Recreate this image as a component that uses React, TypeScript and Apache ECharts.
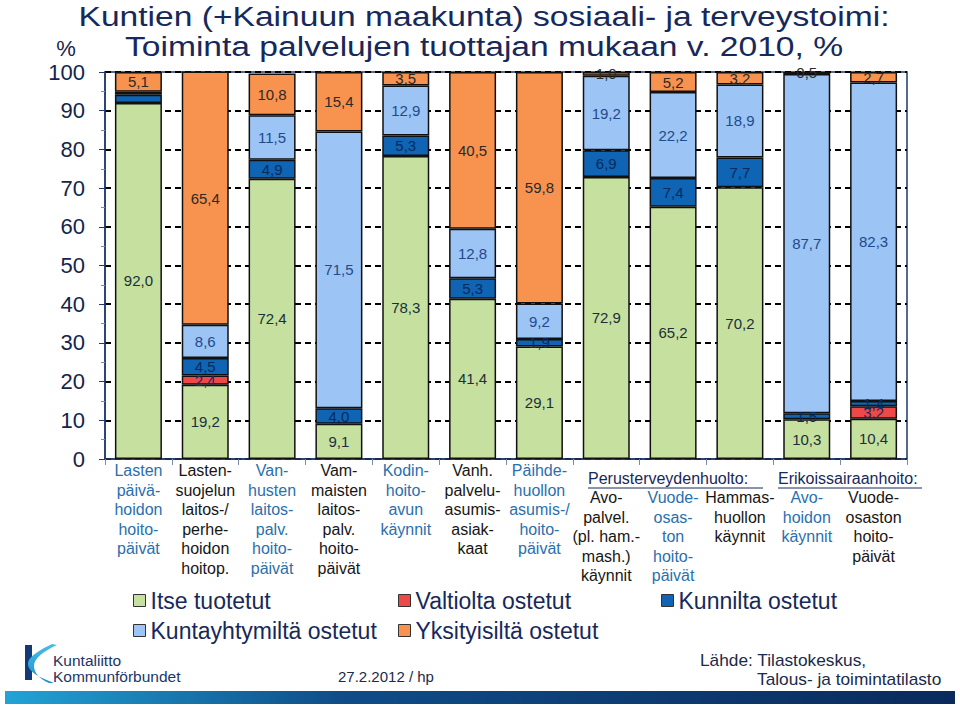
import React, { useEffect, useRef } from 'react';
import * as echarts from 'echarts';

const categories: string[] = [
  'Lasten\npäivä-\nhoidon\nhoito-\npäivät',
  'Lasten-\nsuojelun\nlaitos-/\nperhe-\nhoidon\nhoitop.',
  'Van-\nhusten\nlaitos-\npalv.\nhoito-\npäivät',
  'Vam-\nmaisten\nlaitos-\npalv.\nhoito-\npäivät',
  'Kodin-\nhoito-\navun\nkäynnit',
  'Vanh.\npalvelu-\nasumis-\nasiak-\nkaat',
  'Päihde-\nhuollon\nasumis-/\nhoito-\npäivät',
  'Avo-\npalvel.\n(pl. ham.-\nmash.)\nkäynnit',
  'Vuode-\nosas-\nton\nhoito-\npäivät',
  'Hammas-\nhuollon\nkäynnit',
  'Avo-\nhoidon\nkäynnit',
  'Vuode-\nosaston\nhoito-\npäivät',
];

const itseTuotetut = [92.0, 19.2, 72.4, 9.1, 78.3, 41.4, 29.1, 72.9, 65.2, 70.2, 10.3, 10.4];
const valtioltaOstetut = [0, 2.4, 0, 0, 0, 0, 0, 0, 0, 0, 0, 3.2];
const kunniltaOstetut = [2.1, 4.5, 4.9, 4.0, 5.3, 5.3, 1.9, 6.9, 7.4, 7.7, 1.5, 1.4];
const kuntayhtymiltaOstetut = [0.8, 8.6, 11.5, 71.5, 12.9, 12.8, 9.2, 19.2, 22.2, 18.9, 87.7, 82.3];
const yksityisiltaOstetut = [5.1, 65.4, 10.8, 15.4, 3.5, 40.5, 59.8, 1.0, 5.2, 3.2, 0.5, 2.7];

const seriesNames = [
  'Itse tuotetut',
  'Valtiolta ostetut',
  'Kunnilta ostetut',
  'Kuntayhtymiltä ostetut',
  'Yksityisiltä ostetut',
];
const seriesData = [itseTuotetut, valtioltaOstetut, kunniltaOstetut, kuntayhtymiltaOstetut, yksityisiltaOstetut];
const seriesColors = ['#c6e0a0', '#ee4848', '#0f64b4', '#9cc4f4', '#f8924f'];
const labelColors = ['#1b2f3a', '#1f2a5a', '#0a2a5c', '#1f4a8c', '#2a2a2a'];
// labels not drawn in the reference: [series index, category index]
const hiddenLabels = [[2, 0], [3, 0]];

const groupHeaders = ['Perusterveydenhuolto:', 'Erikoissairaanhoito:'];
const headerCategoryStart = 7;

const titleLines = [
  'Kuntien (+Kainuun maakunta) sosiaali- ja terveystoimi:',
  'Toiminta palvelujen tuottajan mukaan v. 2010, %',
];

const FONT = '"Liberation Sans", Arial, sans-serif';
const NAVY = '#16295a';

echarts.graphic.registerShape(
  'kuntaliittoSwoosh',
  echarts.graphic.extendPath(
    'M 52 644 C 42 649 28 656 28 664 C 28 672 41 678 54 683 L 49 683 C 40 679 34 673 34 666 C 34 658 44 651 57 645 Z',
    {}
  )
);

export default function App() {
  const ref = useRef<HTMLDivElement>(null);

  useEffect(() => {
    if (!ref.current) return;
    const chart = echarts.init(ref.current, undefined, { renderer: 'svg' });

    const series = seriesNames.map((name, si) => ({
      name,
      type: 'bar',
      stack: 'total',
      barWidth: 47,
      data: seriesData[si].map((v, ci) => {
        if (v === 0) return null;
        const hidden = hiddenLabels.some(([s, c]) => s === si && c === ci);
        return hidden ? { value: v, label: { show: false } } : v;
      }),
      itemStyle: { color: seriesColors[si], borderColor: '#111', borderWidth: 1.5 },
      label: {
        show: true,
        position: 'inside',
        color: labelColors[si],
        fontSize: 15,
        fontFamily: FONT,
        formatter: (p: any) => Number(p.value).toFixed(1).replace('.', ','),
      },
    }));

    const legendPos = [
      [133, 589],
      [398, 589],
      [661, 589],
      [133, 619],
      [398, 619],
    ];

    const legends = seriesNames.map((name, i) => ({
      data: [name],
      left: legendPos[i][0],
      top: legendPos[i][1],
      icon: 'rect',
      itemWidth: 12,
      itemHeight: 12,
      padding: 0,
      selectedMode: false,
      itemStyle: { borderColor: '#333', borderWidth: 1 },
      textStyle: { fontSize: 23, color: NAVY, fontFamily: FONT },
    }));

    const option: any = {
      animation: false,
      backgroundColor: '#ffffff',
      grid: {
        left: 105,
        right: 53,
        top: 72,
        bottom: 247,
        show: true,
        borderColor: '#1f3a6e',
        borderWidth: 1.5,
        backgroundColor: 'transparent',
      },
      legend: legends,
      xAxis: {
        type: 'category',
        data: categories,
        axisLine: { lineStyle: { color: '#1f3a6e', width: 1.5 } },
        axisTick: { show: true, length: 6, interval: 0, lineStyle: { color: '#7a8aa8' } },
        axisLabel: {
          interval: 0,
          margin: 2,
          formatter: (value: string, index: number) => {
            const style = index % 2 === 0 ? 'b' : 'k';
            const lines = value.split('\n').map((l) => `{${style}|${l}}`).join('\n');
            return index >= headerCategoryStart ? `{sp| }\n${lines}` : lines;
          },
          rich: {
            b: { color: '#2a6fae', fontSize: 16, fontFamily: FONT, lineHeight: 19.5 },
            k: { color: '#161616', fontSize: 16, fontFamily: FONT, lineHeight: 19.5 },
            sp: { fontSize: 16, lineHeight: 27 },
          },
        },
      },
      yAxis: {
        type: 'value',
        min: 0,
        max: 100,
        interval: 10,
        axisLine: { show: true, lineStyle: { color: '#1f3a6e', width: 1.5 } },
        axisTick: { show: true, length: 6, lineStyle: { color: '#1f3a6e' } },
        minorTick: { show: true, splitNumber: 2, length: 4, lineStyle: { color: '#7a8aa8' } },
        axisLabel: { fontSize: 22, color: '#15244a', fontFamily: FONT, margin: 20 },
        splitLine: { show: true, lineStyle: { color: '#000', width: 2, type: [6, 4] } },
      },
      series,
      graphic: [
        {
          type: 'text',
          x: 484,
          y: 16,
          scaleX: 1.2,
          style: { text: titleLines[0], fill: NAVY, font: `28px ${FONT}`, align: 'center', verticalAlign: 'middle' },
        },
        {
          type: 'text',
          x: 484,
          y: 46,
          scaleX: 1.2,
          style: { text: titleLines[1], fill: NAVY, font: `28px ${FONT}`, align: 'center', verticalAlign: 'middle' },
        },
        {
          type: 'text',
          x: 66,
          y: 48,
          style: { text: '%', fill: '#15244a', font: `22px ${FONT}`, align: 'center', verticalAlign: 'middle' },
        },
        {
          type: 'text',
          x: 588,
          y: 478,
          style: { text: groupHeaders[0], fill: NAVY, font: `16px ${FONT}`, align: 'left', verticalAlign: 'middle' },
        },
        { type: 'line', shape: { x1: 588, y1: 488, x2: 763, y2: 488 }, style: { stroke: NAVY, lineWidth: 1 } },
        {
          type: 'text',
          x: 778,
          y: 478,
          style: { text: groupHeaders[1], fill: NAVY, font: `16px ${FONT}`, align: 'left', verticalAlign: 'middle' },
        },
        { type: 'line', shape: { x1: 778, y1: 488, x2: 922, y2: 488 }, style: { stroke: NAVY, lineWidth: 1 } },
        // logo
        { type: 'rect', shape: { x: 25, y: 645, width: 7, height: 35 }, style: { fill: '#123a78' } },
        {
          type: 'kuntaliittoSwoosh',
          x: 0,
          y: 0,
          style: {
            fill: new echarts.graphic.LinearGradient(0, 0, 0, 1, [
              { offset: 0, color: '#49bde6' },
              { offset: 1, color: '#1f8fcc' },
            ]),
          },
        },
        {
          type: 'text',
          x: 53,
          y: 660,
          style: { text: 'Kuntaliitto', fill: '#1a3668', font: `15.5px ${FONT}`, verticalAlign: 'middle' },
        },
        {
          type: 'text',
          x: 53,
          y: 676,
          style: { text: 'Kommunförbundet', fill: '#1a3668', font: `15.5px ${FONT}`, verticalAlign: 'middle' },
        },
        {
          type: 'text',
          x: 338,
          y: 676,
          style: { text: '27.2.2012 / hp', fill: '#1a2a4a', font: `15px ${FONT}`, verticalAlign: 'middle' },
        },
        {
          type: 'text',
          x: 700,
          y: 661,
          scaleX: 1.08,
          style: { text: 'Lähde: Tilastokeskus,', fill: '#1a2a4a', font: `16px ${FONT}`, verticalAlign: 'middle' },
        },
        {
          type: 'text',
          x: 757,
          y: 680,
          scaleX: 1.08,
          style: { text: 'Talous- ja toimintatilasto', fill: '#1a2a4a', font: `16px ${FONT}`, verticalAlign: 'middle' },
        },
        {
          type: 'rect',
          shape: { x: 5, y: 691, width: 950, height: 13 },
          style: {
            fill: new echarts.graphic.LinearGradient(0, 0, 1, 0, [
              { offset: 0, color: '#22a3d6' },
              { offset: 0.35, color: '#0f4d88' },
              { offset: 1, color: '#0a2a5c' },
            ]),
          },
        },
      ],
    };

    chart.setOption(option);
    return () => chart.dispose();
  }, []);

  return <div ref={ref} style={{ position: 'fixed', left: 0, top: 0, width: 960, height: 706 }} />;
}
